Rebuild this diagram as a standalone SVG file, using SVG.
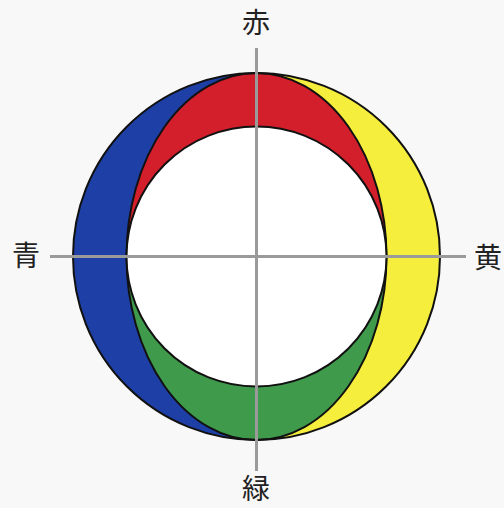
<svg xmlns="http://www.w3.org/2000/svg" width="504" height="508" viewBox="0 0 504 508">
  <style>
    .edge { stroke: #111; stroke-width: 2; }
    .axis { stroke: #9a9a9a; stroke-width: 3; }
    .lbl { font-family: "Noto Sans CJK JP", "Noto Sans CJK SC", sans-serif; font-size: 28px; fill: #222; text-anchor: middle; }
  </style>
  <rect width="504" height="508" fill="#f8f8f8"/>
  <g id="blue">
    <path d="M256.5 73 A183.5 183.5 0 0 0 256.5 440 Z" fill="#1e40a6"/>
  </g>
  <g id="yellow">
    <path d="M256.5 73 A183.5 183.5 0 0 1 256.5 440 Z" fill="#f6ee3c"/>
  </g>
  <g id="red">
    <path d="M126.5 256.5 A130 183.5 0 0 1 386.5 256.5 Z" fill="#d21f2b"/>
  </g>
  <g id="green">
    <path d="M126.5 256.5 A130 183.5 0 0 0 386.5 256.5 Z" fill="#3f9a4b"/>
  </g>
  <g id="outlines" fill="none">
    <ellipse class="edge" cx="256.5" cy="256.5" rx="130" ry="183.5"/>
    <circle class="edge" cx="256.5" cy="256.5" r="130" fill="#ffffff"/>
    <circle class="edge" cx="256.5" cy="256.5" r="183.5"/>
  </g>
  <g id="connectors">
    <line class="axis" x1="256.5" y1="48" x2="256.5" y2="471"/>
    <line class="axis" x1="50" y1="256.5" x2="466" y2="256.5"/>
  </g>
  <g id="label-red"><text class="lbl" x="256" y="33">赤</text></g>
  <g id="label-blue"><text class="lbl" x="26" y="266">青</text></g>
  <g id="label-yellow"><text class="lbl" x="488" y="268">黄</text></g>
  <g id="label-green"><text class="lbl" x="256" y="499">緑</text></g>
</svg>
